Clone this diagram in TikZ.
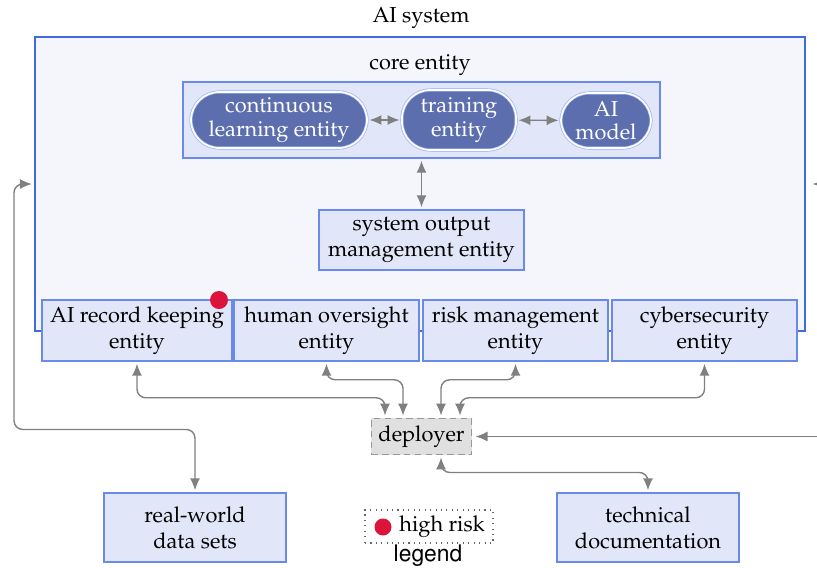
\documentclass[tikz,border=0pt]{standalone}
\usepackage[T1]{fontenc}
\usepackage{mathpazo}
\usetikzlibrary{arrows.meta}
\usetikzlibrary{calc}
\usetikzlibrary{positioning}
\definecolor{sys-blue}{RGB}{65, 105, 225}
\definecolor{sys-fill}{RGB}{245, 246, 252}
\definecolor{entity-line}{RGB}{105, 138, 232}
\definecolor{entity-fill}{RGB}{225, 230, 248}
\definecolor{model-fill}{RGB}{92, 110, 174}
\definecolor{link-grey}{RGB}{128, 128, 128}
\definecolor{deploy-fill}{RGB}{224, 224, 224}
\definecolor{risk-red}{RGB}{220, 20, 60}

\tikzset{
  entitybox/.style={draw=entity-line, fill=entity-fill, line width=0.5pt, align=center, inner sep=2pt},
  modelbox/.style={draw=entity-line!70, double=white, double distance=0.8pt, line width=0.3pt,
    fill=model-fill, text=white, rounded corners=13pt, align=center, inner sep=1pt,
    font=\linespread{0.9}\selectfont},
  riskdot/.style={circle, fill=risk-red, inner sep=0pt},
  biarrow/.style={draw=link-grey, line width=0.65pt, rounded corners=4pt,
    {Latex[length=5.5pt,width=4.6pt]}-{Latex[length=5.5pt,width=4.6pt]}, shorten <=1pt, shorten >=1pt},
  onearrow/.style={draw=link-grey, line width=0.65pt, -{Latex[length=5.5pt,width=4.6pt]}, shorten >=1.5pt}
}

\begin{document}
\begin{tikzpicture}[x=0.46pt, y=-0.46pt]
\useasboundingbox (0,0) rectangle (817,567);

\node (systitle) at (421,18) {AI system};
\node[draw=sys-blue, fill=sys-fill, line width=0.9pt, minimum width=770*0.46pt, minimum height=294*0.46pt] (aisys) at (420,184) {};

\node (coretitle) at (420,65) {core entity};
\node[entitybox, minimum width=477*0.46pt, minimum height=76*0.46pt] (core) at (421.5,120) {};
\node[modelbox, minimum width=176*0.46pt, minimum height=56*0.46pt] (learn) at (279,120) {continuous\\learning entity};
\node[modelbox, minimum width=114*0.46pt, minimum height=60*0.46pt] (train) at (459,120) {training\\entity};
\node[modelbox, minimum width=90*0.46pt, minimum height=55*0.46pt] (model) at (606,120.5) {AI\\model};

\node[entitybox, minimum width=205*0.46pt, minimum height=60*0.46pt] (sysout) at (421.5,240) {system output\\management entity};

\node[entitybox, minimum width=190*0.46pt, minimum height=61*0.46pt] (rec) at (137,330.5) {AI record keeping\\entity};
\node[entitybox, minimum width=185*0.46pt, minimum height=61*0.46pt] (hum) at (326.5,330.5) {human oversight\\entity};
\node[entitybox, minimum width=185*0.46pt, minimum height=61*0.46pt] (risk) at (515.5,330.5) {risk management\\entity};
\node[entitybox, minimum width=185*0.46pt, minimum height=61*0.46pt] (cyb) at (704.5,330.5) {cybersecurity\\entity};
\node[riskdot, minimum size=18*0.46pt] (recdot) at (219,300) {};

\node[draw=link-grey!80, densely dashed, fill=deploy-fill, line width=0.5pt, minimum width=97*0.46pt, minimum height=33*0.46pt] (dep) at (421.5,436.5) {deployer};

\node[entitybox, minimum width=182*0.46pt, minimum height=69*0.46pt] (data) at (195,527.5) {real-world\\data sets};
\node[entitybox, minimum width=182*0.46pt, minimum height=69*0.46pt] (tech) at (648,527.5) {technical\\documentation};

\node[draw=black!60, dotted, line width=0.5pt, minimum width=128*0.46pt, minimum height=33*0.46pt] (legbox) at (429,526.5) {};
\node[riskdot, minimum size=17*0.46pt] (legdot) at (383,527) {};
\node[anchor=west, inner sep=0pt] (legtext) at (399,527) {high risk};
\node (legtitle) at (428,556) {\fontfamily{phv}\fontsize{10.5}{12}\selectfont legend};

\coordinate (sysin) at (817,184);
\coordinate (depin) at (817,436.5);

\draw[biarrow] (learn) -- (train);
\draw[biarrow] (train) -- (model);
\draw[biarrow] (core.south) -- (sysout.north);

\draw[biarrow] (rec.south) |- ($(dep.north)+(-36.5,-20)$) -- ($(dep.north)+(-36.5,0)$);
\draw[biarrow] (hum.south) |- ($(dep.north)+(-18.5,-38)$) -- ($(dep.north)+(-18.5,0)$);
\draw[biarrow] (risk.south) |- ($(dep.north)+(19.5,-38)$) -- ($(dep.north)+(19.5,0)$);
\draw[biarrow] (cyb.south) |- ($(dep.north)+(38.5,-20)$) -- ($(dep.north)+(38.5,0)$);
\draw[biarrow] ($(dep.south)+(19.5,0)$) |- ($(tech.north)+(0,-20)$) -- (tech.north);
\draw[biarrow] (aisys.west) -- ++(-20,0) |- ($(data.north)+(0,-63)$) -- (data.north);

\draw[onearrow, shorten >=3pt] (sysin) -- (aisys.east);
\draw[onearrow] (depin) -- (dep.east);

\end{tikzpicture}
\end{document}
